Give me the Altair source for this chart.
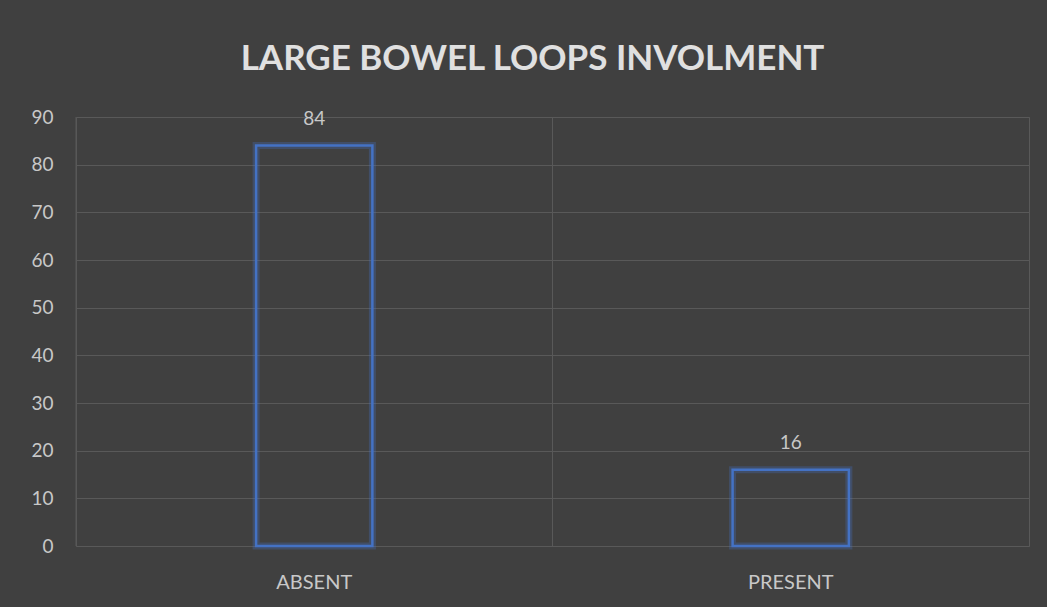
import altair as alt
import pandas as pd

categories = ["ABSENT", "PRESENT"]
values = [84, 16]
y_ticks = [0, 10, 20, 30, 40, 50, 60, 70, 80, 90]

df = pd.DataFrame({"cat": categories, "value": values})

BG = "#404040"
GRID = "#595959"
BLUE = "#4472C4"
TXT = "#c8c8c8"
W, H = 953, 429

xscale = alt.Scale(paddingInner=0, paddingOuter=0)
yscale = alt.Scale(domain=[0, 90], nice=False)

x_axis = alt.Axis(
    labelAngle=0, ticks=False, domain=False, grid=False,
    bandPosition=0.5,
    labelColor=TXT, labelFontSize=20, labelFont="Lato",
    labelPadding=26,
)

base = alt.Chart(df)

x_enc = alt.X("cat:N", sort=categories, scale=xscale, title=None, axis=x_axis)
y_enc = alt.Y(
    "value:Q",
    scale=yscale,
    title=None,
    axis=alt.Axis(
        values=y_ticks, ticks=False, domain=False, grid=True,
        gridColor=GRID, gridWidth=1,
        labelColor=TXT, labelFontSize=19, labelFont="Lato",
        labelPadding=23,
    ),
)

glow = base.mark_bar(
    width=alt.RelativeBandSize(0.244),
    fillOpacity=0, stroke=BLUE, strokeWidth=7, strokeOpacity=0.3,
).encode(x=x_enc, y=y_enc)

bars = base.mark_bar(
    width=alt.RelativeBandSize(0.244),
    fillOpacity=0, stroke=BLUE, strokeWidth=2.5,
).encode(x=x_enc, y=y_enc)

labels = base.mark_text(
    dy=-27, baseline="middle", color=TXT, fontSize=19, font="Lato",
).encode(x=x_enc, y=y_enc, text="value:Q")

vgrid = base.mark_rule(color=GRID, strokeWidth=1).encode(
    x=alt.X("cat:N", bandPosition=0, scale=xscale, sort=categories,
            title=None, axis=x_axis),
    y=alt.value(0),
    y2=alt.value(H),
)

chart = (
    alt.layer(glow, bars, labels, vgrid)
    .properties(
        width=W,
        height=H,
        background=BG,
        autosize=alt.AutoSizeParams(type="none"),
        padding={"left": 76, "top": 117, "right": 18, "bottom": 61},
        title=alt.TitleParams(
            "LARGE BOWEL LOOPS INVOLMENT",
            font="Lato", fontSize=35, fontWeight="bold", color="#e0e0e0",
            anchor="middle", offset=31, dx=-20,
        ),
    )
    .configure_view(stroke=GRID, strokeWidth=1)
)

chart.save("out.html", embed_options={"renderer": "svg", "actions": False})
